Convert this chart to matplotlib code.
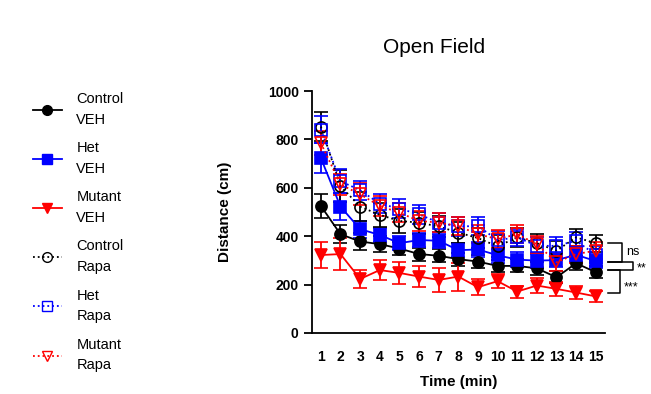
import matplotlib
matplotlib.use("Agg")
import matplotlib.pyplot as plt
from matplotlib.lines import Line2D

plt.rcParams['font.family'] = ['Liberation Sans', 'DejaVu Sans']

minutes = list(range(1, 16))
tick_labels = [str(m) for m in minutes]

control_veh = [525, 408, 378, 367, 349, 326, 319, 305, 295, 277, 277, 267, 230, 288, 251]
control_veh_err = [48, 37, 34, 32, 28, 27, 26, 27, 27, 26, 27, 27, 25, 28, 25]
het_veh = [723, 522, 429, 405, 371, 384, 381, 342, 345, 321, 303, 299, 301, 323, 297]
het_veh_err = [62, 55, 35, 30, 30, 30, 30, 30, 30, 30, 30, 30, 30, 30, 30]
mutant_veh = [322, 326, 223, 260, 248, 233, 219, 233, 189, 214, 171, 196, 182, 167, 151]
mutant_veh_err = [55, 66, 36, 41, 46, 42, 48, 58, 34, 30, 25, 29, 30, 25, 22]
control_rapa = [853, 607, 522, 488, 463, 456, 440, 415, 392, 358, 395, 371, 340, 395, 371]
control_rapa_err = [60, 66, 60, 50, 50, 45, 45, 45, 40, 45, 40, 40, 40, 35, 35]
het_rapa = [840, 627, 590, 534, 514, 490, 456, 440, 442, 384, 395, 360, 360, 381, 323]
het_rapa_err = [55, 50, 40, 40, 40, 38, 38, 38, 38, 38, 35, 35, 35, 35, 35]
mutant_rapa = [785, 614, 573, 525, 497, 463, 456, 442, 408, 388, 408, 367, 292, 326, 340]
mutant_rapa_err = [50, 45, 45, 40, 40, 40, 38, 38, 38, 38, 38, 35, 35, 35, 35]

series = [
    ("Control\nVEH", control_veh, control_veh_err, "black", "o", "-", True),
    ("Het\nVEH", het_veh, het_veh_err, "#0000ff", "s", "-", True),
    ("Mutant\nVEH", mutant_veh, mutant_veh_err, "#ff0000", "v", "-", True),
    ("Control\nRapa", control_rapa, control_rapa_err, "black", "o", ":", False),
    ("Het\nRapa", het_rapa, het_rapa_err, "#0000ff", "s", ":", False),
    ("Mutant\nRapa", mutant_rapa, mutant_rapa_err, "#ff0000", "v", ":", False),
]

fig = plt.figure(figsize=(6.51, 3.94), dpi=100)
ax = fig.add_axes([0.479, 0.155, 0.45, 0.614])

handles = []
for label, vals, errs, color, marker, ls, filled in series:
    ax.errorbar(minutes, vals, yerr=errs, color=color, marker=marker, linestyle=ls,
                markersize=8, markerfacecolor=color if filled else "none",
                markeredgecolor=color, markeredgewidth=1.2, linewidth=1.3,
                elinewidth=1.3, capsize=5, capthick=1.3)
    handles.append(Line2D([], [], color=color, marker=marker, linestyle=ls,
                          markersize=7,
                          markerfacecolor=color if filled else "none",
                          markeredgecolor=color, linewidth=1.3, label=label))

ax.set_xlim(0.54, 15.46)
ax.set_ylim(0, 1000)
ax.set_yticks([0, 200, 400, 600, 800, 1000])
ax.set_xticks(minutes)
ax.set_xticklabels(tick_labels)
ax.tick_params(axis='x', length=0, pad=12, labelsize=10)
ax.tick_params(axis='y', length=6, width=1.3, labelsize=10)
for t in ax.get_xticklabels() + ax.get_yticklabels():
    t.set_fontweight('bold')
for s in ['top', 'right']:
    ax.spines[s].set_visible(False)
for s in ['left', 'bottom']:
    ax.spines[s].set_linewidth(1.3)

ax.set_ylabel("Distance (cm)", fontsize=11, fontweight='bold', labelpad=26)
ax.set_xlabel("Time (min)", fontsize=11, fontweight='bold', labelpad=8)
fig.text(0.667, 0.88, "Open Field", ha='center', va='center', fontsize=15)

# significance brackets
def bracket(y1, y2, xr, label, ly):
    ax.plot([15.61, xr, xr, 15.61], [y1, y1, y2, y2], color='black', lw=1.1, clip_on=False)
    ax.text(xr + 0.2, ly, label, fontsize=9, va='center', ha='left')

bracket(373, 295, 16.33, "ns", 334)
bracket(295, 260, 16.89, "**", 265)
bracket(260, 164, 16.22, "***", 190)

leg = fig.legend(handles=handles, loc='upper left', bbox_to_anchor=(0.03, 0.80),
                 frameon=False, fontsize=10.5, handlelength=2.0, labelspacing=1.0,
                 handletextpad=1.0)
for t in leg.get_texts():
    t.set_linespacing(1.6)

fig.savefig("out.png", dpi=100)
